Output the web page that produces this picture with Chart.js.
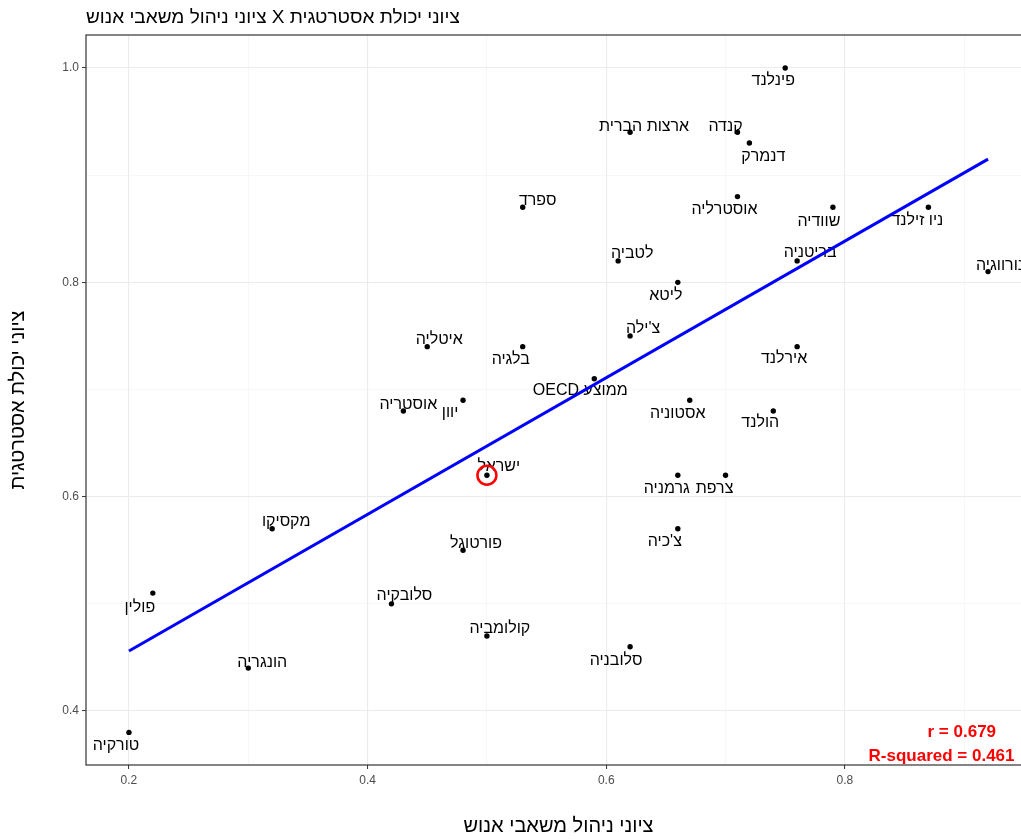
<!DOCTYPE html>
<html lang="he">
<head>
<meta charset="utf-8">
<title>ציוני יכולת אסטרטגית X ציוני ניהול משאבי אנוש</title>
<script src="https://cdn.jsdelivr.net/npm/chart.js@4.4.1/dist/chart.umd.min.js"></script>
<style>
  html, body { margin: 0; padding: 0; background: #ffffff; overflow: hidden; }
  #chart { display: block; direction: rtl; }
</style>
</head>
<body>
<canvas id="chart" width="1045" height="840"></canvas>
<script>
// ---------------- DATA ----------------
const chartTitle = 'ציוני יכולת אסטרטגית X ציוני ניהול משאבי אנוש';
const xAxisTitle = 'ציוני ניהול משאבי אנוש';
const yAxisTitle = 'ציוני יכולת אסטרטגית';

const countries = [
  'פינלנד', 'ארצות הברית', 'קנדה', 'דנמרק', 'אוסטרליה', 'שוודיה', 'ניו זילנד',
  'ספרד', 'בריטניה', 'נורווגיה', 'לטביה', 'ליטא', "צ'ילה", 'בלגיה', 'איטליה',
  'אירלנד', 'ממוצע OECD', 'יוון', 'אוסטריה', 'אסטוניה', 'הולנד', 'ישראל',
  'גרמניה', 'צרפת', 'מקסיקו', "צ'כיה", 'פורטוגל', 'פולין', 'סלובקיה',
  'קולומביה', 'סלובניה', 'הונגריה', 'טורקיה'
];
const hrScores = [
  0.75, 0.62, 0.71, 0.72, 0.71, 0.79, 0.87,
  0.53, 0.76, 0.92, 0.61, 0.66, 0.62, 0.53, 0.45,
  0.76, 0.59, 0.48, 0.43, 0.67, 0.74, 0.50,
  0.66, 0.70, 0.32, 0.66, 0.48, 0.22, 0.42,
  0.50, 0.62, 0.30, 0.20
];
const strategyScores = [
  1.00, 0.94, 0.94, 0.93, 0.88, 0.87, 0.87,
  0.87, 0.82, 0.81, 0.82, 0.80, 0.75, 0.74, 0.74,
  0.74, 0.71, 0.69, 0.68, 0.69, 0.68, 0.62,
  0.62, 0.62, 0.57, 0.57, 0.55, 0.51, 0.50,
  0.47, 0.46, 0.44, 0.38
];
const fitLineX = [0.20, 0.92];
const fitLineY = [0.456, 0.915];
const highlightCountry = 'ישראל';
const statsText = ['r = 0.679', 'R-squared = 0.461'];
const xMajorTicks = [0.2, 0.4, 0.6, 0.8];
const xMinorTicks = [0.3, 0.5, 0.7, 0.9];
const yMajorTicks = [0.4, 0.6, 0.8, 1.0];
const yMinorTicks = [0.5, 0.7, 0.9];

// ---------------- LAYOUT (label nudges in px, not data) ----------------
const labelNudge = [
  [-12, 11], [14, -8], [-12, -8], [14, 12], [-13, 11], [-14, 12], [-11, 11],
  [15, -9], [13, -10], [12, -8], [14, -9], [-12, 11], [13, -9], [-12, 11], [12, -9],
  [-13, 10], [-14, 10], [-13, 10], [5, -8], [-12, 11], [-13, 10], [12, -11],
  [-11, 11], [-11, 11], [14, -9], [-13, 11], [13, -9], [-13, 12], [13, -10],
  [13, -9], [-14, 12], [14, -8], [-13, 11]
];
const labelBaselineShift = 2;
const statsPos = [[0.898, 0.380], [0.881, 0.3575]];

const FONT = '"Liberation Sans", Arial, "DejaVu Sans", sans-serif';
Chart.defaults.font.family = FONT;

const isMajor = (arr, v) => arr.some(m => Math.abs(m - v) < 1e-9);

const scatterPoints = hrScores.map((x, i) => ({ x: x, y: strategyScores[i] }));
const fitPoints = fitLineX.map((x, i) => ({ x: x, y: fitLineY[i] }));

const decorPlugin = {
  id: 'decor',
  beforeDatasetsDraw(chart) {
    const ctx = chart.ctx;
    const xs = chart.scales.x, ys = chart.scales.y;
    ctx.save();
    ctx.font = '16px ' + FONT;
    ctx.fillStyle = '#000000';
    ctx.textAlign = 'center';
    ctx.textBaseline = 'middle';
    ctx.direction = 'rtl';
    countries.forEach((name, i) => {
      const px = xs.getPixelForValue(hrScores[i]) + labelNudge[i][0];
      const py = ys.getPixelForValue(strategyScores[i]) + labelNudge[i][1] + labelBaselineShift;
      ctx.fillText(name, px, py);
    });
    ctx.restore();
  },
  afterDatasetsDraw(chart) {
    const ctx = chart.ctx;
    const xs = chart.scales.x, ys = chart.scales.y;
    const idx = countries.indexOf(highlightCountry);
    ctx.save();
    ctx.strokeStyle = '#ff0000';
    ctx.lineWidth = 2.5;
    ctx.beginPath();
    ctx.arc(xs.getPixelForValue(hrScores[idx]), ys.getPixelForValue(strategyScores[idx]), 9.5, 0, Math.PI * 2);
    ctx.stroke();
    ctx.restore();
  },
  afterDraw(chart) {
    const ctx = chart.ctx;
    const a = chart.chartArea;
    const xs = chart.scales.x, ys = chart.scales.y;
    ctx.save();
    ctx.strokeStyle = '#333333';
    ctx.lineWidth = 1.2;
    ctx.strokeRect(a.left, a.top, a.right - a.left, a.bottom - a.top);
    ctx.font = 'bold 17px ' + FONT;
    ctx.fillStyle = '#ff0000';
    ctx.textAlign = 'center';
    ctx.textBaseline = 'middle';
    ctx.direction = 'ltr';
    statsText.forEach((t, i) => {
      ctx.fillText(t, xs.getPixelForValue(statsPos[i][0]), ys.getPixelForValue(statsPos[i][1]));
    });
    ctx.restore();
  }
};

new Chart(document.getElementById('chart'), {
  type: 'scatter',
  data: {
    datasets: [
      {
        type: 'line',
        data: fitPoints,
        borderColor: '#0000ff',
        borderWidth: 3,
        pointRadius: 0,
        fill: false,
        order: 0
      },
      {
        data: scatterPoints,
        backgroundColor: '#000000',
        borderColor: '#000000',
        pointRadius: 2.7,
        borderWidth: 0,
        order: 1
      }
    ]
  },
  options: {
    responsive: false,
    animation: false,
    devicePixelRatio: 1,
    layout: { padding: { left: 0, top: 0, right: 14, bottom: 0 } },
    plugins: {
      legend: { display: false },
      tooltip: { enabled: false },
      title: {
        display: true,
        text: chartTitle,
        align: 'start',
        fullSize: false,
        color: '#000000',
        font: { size: 19, weight: 'normal', family: FONT },
        padding: { top: 6, bottom: 6.2 }
      }
    },
    scales: {
      x: {
        type: 'linear',
        min: 0.164,
        max: 0.956,
        afterFit(scale) { scale.height = 75; },
        afterBuildTicks(scale) {
          scale.ticks = xMajorTicks.concat(xMinorTicks).sort((p, q) => p - q).map(v => ({ value: v }));
        },
        ticks: {
          autoSkip: false,
          maxRotation: 0,
          padding: 4,
          color: '#4d4d4d',
          font: { size: 12 },
          callback: (v) => isMajor(xMajorTicks, v) ? Number(v).toFixed(1) : ''
        },
        grid: {
          color: (c) => c.tick && isMajor(xMajorTicks, c.tick.value) ? '#ebebeb' : '#f2f2f2',
          lineWidth: (c) => c.tick && isMajor(xMajorTicks, c.tick.value) ? 1.1 : 0.6,
          tickColor: (c) => c.tick && isMajor(xMajorTicks, c.tick.value) ? '#333333' : 'rgba(0,0,0,0)',
          tickLength: 4,
          tickWidth: 1
        },
        border: { display: false },
        title: {
          display: true,
          text: xAxisTitle,
          color: '#000000',
          font: { size: 20 },
          padding: { top: 0, bottom: 2 }
        }
      },
      y: {
        type: 'linear',
        min: 0.3496,
        max: 1.0308,
        afterFit(scale) { scale.width = 86; },
        afterBuildTicks(scale) {
          scale.ticks = yMajorTicks.concat(yMinorTicks).sort((p, q) => p - q).map(v => ({ value: v }));
        },
        ticks: {
          autoSkip: false,
          padding: 3,
          color: '#4d4d4d',
          font: { size: 12 },
          callback: (v) => isMajor(yMajorTicks, v) ? Number(v).toFixed(1) : ''
        },
        grid: {
          color: (c) => c.tick && isMajor(yMajorTicks, c.tick.value) ? '#ebebeb' : '#f2f2f2',
          lineWidth: (c) => c.tick && isMajor(yMajorTicks, c.tick.value) ? 1.1 : 0.6,
          tickColor: (c) => c.tick && isMajor(yMajorTicks, c.tick.value) ? '#333333' : 'rgba(0,0,0,0)',
          tickLength: 4,
          tickWidth: 1
        },
        border: { display: false },
        title: {
          display: true,
          text: yAxisTitle,
          color: '#000000',
          font: { size: 20 },
          padding: { top: 6, bottom: 0 }
        }
      }
    }
  },
  plugins: [decorPlugin]
});
</script>
</body>
</html>
